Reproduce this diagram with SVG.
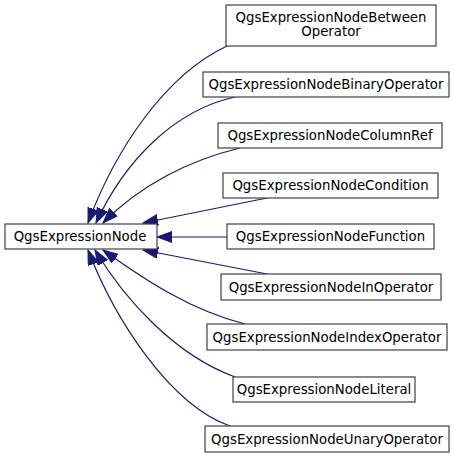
<svg xmlns="http://www.w3.org/2000/svg" width="461" height="458" viewBox="0 0 461 458">
<style>
.n rect{fill:#ffffff;stroke:#404040;stroke-width:1.2}
.n text{font-family:"DejaVu Sans",sans-serif;font-size:13.3px;fill:#000000;text-anchor:middle}
.e path{fill:none;stroke:#191970;stroke-width:1.2;marker-end:url(#ah)}
</style>
<defs>
<marker id="ah" markerUnits="userSpaceOnUse" markerWidth="16" markerHeight="12" refX="15" refY="5.5" orient="auto">
<path d="M0,0 L15,5.5 L0,11 z" fill="#191970" stroke="#191970" stroke-width="1"/>
</marker>
</defs>
<rect width="461" height="458" fill="#ffffff"/>
<g id="edges" class="e">
<path d="M227,46 C165,75 115,150 88,223"/>
<path d="M235,97 C175,110 125,160 96,223"/>
<path d="M240,148 C190,160 140,185 103,223"/>
<path d="M267,198 L143,223"/>
<path d="M227,237 L157,237"/>
<path d="M267,274 L143,250"/>
<path d="M245,324 C190,310 145,280 103,250"/>
<path d="M235,377 C175,355 125,300 95,250"/>
<path d="M230,426 C170,405 115,320 88,250"/>
</g>
<g id="QgsExpressionNode" class="n">
<rect x="5" y="224" width="152" height="25"/>
<text x="80" y="241">QgsExpressionNode</text>
</g>
<g id="Between" class="n">
<rect x="226" y="5" width="210" height="41"/>
<text x="331" y="21.5">QgsExpressionNodeBetween</text>
<text x="331" y="36">Operator</text>
</g>
<g id="Binary" class="n">
<rect x="203" y="72" width="246" height="25"/>
<text x="326" y="89">QgsExpressionNodeBinaryOperator</text>
</g>
<g id="ColumnRef" class="n">
<rect x="218" y="123" width="224" height="25"/>
<text x="330" y="140">QgsExpressionNodeColumnRef</text>
</g>
<g id="Condition" class="n">
<rect x="223" y="173" width="215" height="25"/>
<text x="330.5" y="190">QgsExpressionNodeCondition</text>
</g>
<g id="Function" class="n">
<rect x="227" y="224" width="207" height="25"/>
<text x="330.5" y="241">QgsExpressionNodeFunction</text>
</g>
<g id="InOperator" class="n">
<rect x="221" y="274" width="220" height="26"/>
<text x="331" y="291.5">QgsExpressionNodeInOperator</text>
</g>
<g id="IndexOperator" class="n">
<rect x="207" y="324" width="240" height="26"/>
<text x="327" y="341.5">QgsExpressionNodeIndexOperator</text>
</g>
<g id="Literal" class="n">
<rect x="233" y="377" width="182" height="25"/>
<text x="324" y="394">QgsExpressionNodeLiteral</text>
</g>
<g id="Unary" class="n">
<rect x="205" y="426" width="244" height="26"/>
<text x="327" y="443.5">QgsExpressionNodeUnaryOperator</text>
</g>
</svg>
